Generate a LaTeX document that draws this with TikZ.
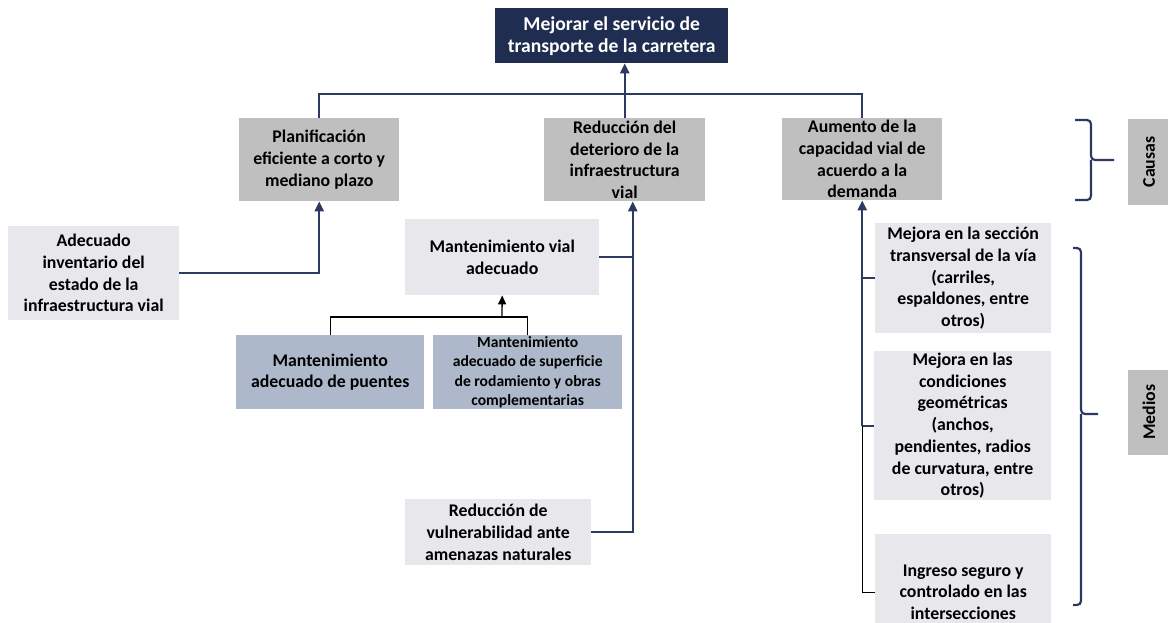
\documentclass[tikz,border=0pt]{standalone}
\usepackage{fontspec}
\setmainfont{Carlito}
\usetikzlibrary{arrows.meta}
\definecolor{navy}{RGB}{31,45,80}
\definecolor{linkblue}{RGB}{44,58,96}
\definecolor{causegray}{RGB}{191,191,191}
\definecolor{meanlight}{RGB}{232,231,235}
\definecolor{subblue}{RGB}{173,185,202}

\begin{document}
\begin{tikzpicture}[x=1pt,y=-1pt,
  base/.style={anchor=north west, align=center, inner sep=0pt,
    font=\bfseries\fontsize{17.8}{21.7}\selectfont},
  goalbox/.style={base, fill=navy, text=white,
    font=\bfseries\fontsize{19.6}{22}\selectfont},
  causebox/.style={base, fill=causegray},
  meanbox/.style={base, fill=meanlight},
  subbox/.style={base, fill=subblue},
  tagbox/.style={fill=causegray, inner sep=0pt, rotate=90,
    font=\bfseries\fontsize{17.8}{21.7}\selectfont},
  link/.style={draw=linkblue, line width=2.4pt},
  linkarrow/.style={link, -{Triangle[length=10pt,width=9pt]}},
  thinlink/.style={draw=black, line width=1.3pt},
  thinarrow/.style={thinlink, -{Triangle[length=9pt,width=8pt]}},
  bracket/.style={draw=linkblue, line width=2.2pt, rounded corners=4pt}
]
\useasboundingbox (0,0) rectangle (1168,622);

% goal
\node[goalbox, minimum width=233pt, minimum height=55pt] (goal) at (495,8)
  {Mejorar el servicio de\\transporte de la carretera};

% causes
\node[causebox, minimum width=160pt, minimum height=83pt] (plan) at (239,118)
  {Planificación\\eficiente a corto y\\mediano plazo};
\node[causebox, minimum width=161pt, minimum height=83pt] (red) at (544,118)
  {Reducción del\\deterioro de la\\infraestructura\\vial};
\node[causebox, minimum width=160pt, minimum height=82pt] (aum) at (782,118)
  {Aumento de la\\capacidad vial de\\acuerdo a la\\demanda};

% means
\node[meanbox, minimum width=171pt, minimum height=94pt] (inv) at (8,226)
  {Adecuado\\inventario del\\estado de la\\infraestructura vial};
\node[meanbox, minimum width=194pt, minimum height=76pt] (mv) at (405,219)
  {Mantenimiento vial\\adecuado};
\node[subbox, minimum width=188pt, minimum height=74pt] (mp) at (236,335)
  {Mantenimiento\\adecuado de puentes};
\node[subbox, minimum width=189pt, minimum height=74pt,
  font=\bfseries\fontsize{15.6}{19.5}\selectfont] (ms) at (433,335)
  {Mantenimiento\\adecuado de superficie\\de rodamiento y obras\\complementarias};
\node[meanbox, minimum width=186pt, minimum height=66pt] (vul) at (405,499)
  {Reducción de\\vulnerabilidad ante\\amenazas naturales};
\node[meanbox, minimum width=176pt, minimum height=110pt] (m1) at (875,223)
  {Mejora en la sección\\transversal de la vía\\(carriles,\\espaldones, entre\\otros)};
\node[meanbox, minimum width=177pt, minimum height=149pt] (m2) at (874,351)
  {Mejora en las\\condiciones\\geométricas\\(anchos,\\pendientes, radios\\de curvatura, entre\\otros)};
\node[meanbox, minimum width=176pt, minimum height=116pt] (ing) at (875,534)
  {Ingreso seguro y\\controlado en las\\intersecciones};

% side tags
\node[tagbox, minimum width=86pt, minimum height=42pt] (causas) at (1149,162) {Causas};
\node[tagbox, minimum width=85pt, minimum height=42pt] (medios) at (1149,412) {Medios};

% causes to goal
\coordinate (bus) at (624,94);
\draw[link] (plan.north) |- (bus) -| (aum.north);
\draw[linkarrow] (red.north) -- (red.north |- goal.south);

% means to causes
\draw[linkarrow] (inv.east) -| (plan.south);

\coordinate (redin) at ([xshift=8pt]red.south);
\draw[linkarrow] (vul.east) -| (redin);
\draw[link] (mv.east) -- (mv.east -| redin);

\coordinate (mvj) at (502,317);
\draw[thinlink] (mp.north) |- (mvj) -| (ms.north);
\draw[thinarrow] (mvj) -- (mv.south);

\coordinate (aumj) at (m2.west -| aum.south);
\draw[linkarrow] (aumj) -- (aum.south);
\draw[link] (m1.west) -- (m1.west -| aum.south);
\draw[link] (m2.west) -- (aumj);
\draw[thinlink] (ing.west) -| (aumj);

% brackets
\draw[bracket] (1075,120) -| (1091,160) -- (1114,160);
\draw[bracket] (1091,160) |- (1075,200);
\draw[bracket] (1073,248) -| (1081,414) -- (1098,414);
\draw[bracket] (1081,414) |- (1073,605);
\end{tikzpicture}
\end{document}
